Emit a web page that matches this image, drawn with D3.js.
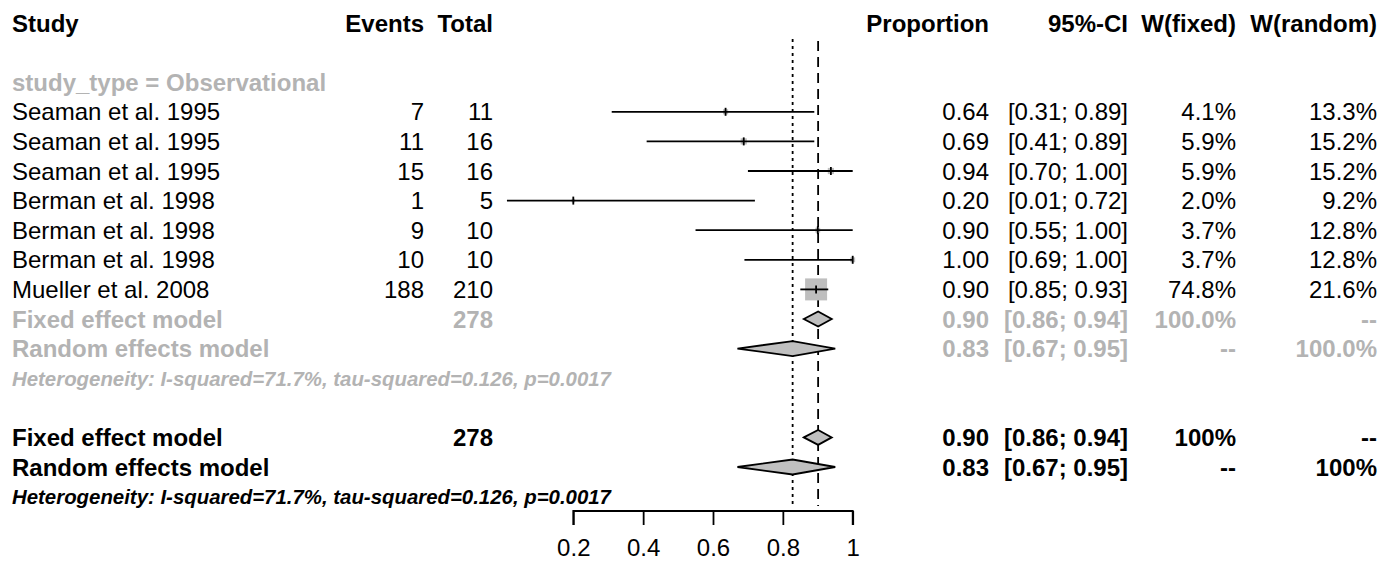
<!DOCTYPE html>
<html>
<head>
<meta charset="utf-8">
<script src="https://cdn.jsdelivr.net/npm/d3@7"></script>
<style>
  body { margin: 0; background: #fff; }
  text { font-family: "Liberation Sans", Arial, sans-serif; }
</style>
</head>
<body>
<div id="chart"></div>
<script>
// study level data
var studies = ["Seaman et al. 1995", "Seaman et al. 1995", "Seaman et al. 1995", "Berman et al. 1998", "Berman et al. 1998", "Berman et al. 1998", "Mueller et al. 2008"];
var events = [7, 11, 15, 1, 9, 10, 188];
var totals = [11, 16, 16, 5, 10, 10, 210];
var props = [0.636, 0.688, 0.9375, 0.2, 0.9, 1.0, 0.8952];
var lower = [0.31, 0.41, 0.70, 0.01, 0.55, 0.69, 0.85];
var upper = [0.89, 0.89, 1.00, 0.72, 1.00, 1.00, 0.93];
var wFixed = [4.1, 5.9, 5.9, 2.0, 3.7, 3.7, 74.8];
var wRandom = [13.3, 15.2, 15.2, 9.2, 12.8, 12.8, 21.6];

// pooled estimates
var pooledNames = ["Fixed effect model", "Random effects model"];
var pooledEst = [0.901, 0.828];
var pooledLower = [0.86, 0.67];
var pooledUpper = [0.94, 0.95];
var pooledTotal = 278;
var hetText = "Heterogeneity: I-squared=71.7%, tau-squared=0.126, p=0.0017";
var groupLabel = "study_type = Observational";
var axisTicks = [0.2, 0.4, 0.6, 0.8, 1];

var width = 1383, height = 565;
var grey = "#b3b3b3";
var fs = 24;
var lw = 1.8;

var svg = d3.select("#chart").append("svg")
  .attr("width", width)
  .attr("height", height);

// scales
var x = d3.scaleLinear().domain([0.2, 1]).range([573.3, 852.7]);
var row = d3.scaleLinear().domain([0, 1]).range([23, 52.6]);

// column right edges
var col = {study: 12, events: 424, total: 493, prop: 989, ci: 1128, wf: 1236, wr: 1377};

function txt(xp, r, s, opts) {
  opts = opts || {};
  return svg.append("text")
    .attr("x", xp)
    .attr("y", row(r))
    .attr("dy", "0.36em")
    .attr("text-anchor", opts.anchor || "end")
    .style("font-size", (opts.size || fs) + "px")
    .style("font-weight", opts.bold ? "bold" : "normal")
    .style("font-style", opts.italic ? "italic" : "normal")
    .style("fill", opts.color || "#000")
    .text(s);
}

// header
txt(col.study, 0, "Study", {anchor: "start", bold: true});
txt(col.events, 0, "Events", {bold: true});
txt(col.total, 0, "Total", {bold: true});
txt(col.prop, 0, "Proportion", {bold: true});
txt(col.ci, 0, "95%-CI", {bold: true});
txt(col.wf, 0, "W(fixed)", {bold: true});
txt(col.wr, 0, "W(random)", {bold: true});

txt(col.study, 2, groupLabel, {anchor: "start", bold: true, color: grey});

function ciStr(lo, hi) { return "[" + lo.toFixed(2) + "; " + hi.toFixed(2) + "]"; }

// reference lines (drawn first so marks sit on top)
svg.append("line")
  .attr("x1", x(pooledEst[1])).attr("x2", x(pooledEst[1]))
  .attr("y1", 39).attr("y2", 506)
  .attr("stroke", "#000").attr("stroke-width", lw)
  .attr("stroke-dasharray", "3,4");
svg.append("line")
  .attr("x1", x(pooledEst[0])).attr("x2", x(pooledEst[0]))
  .attr("y1", 41).attr("y2", 506)
  .attr("stroke", "#000").attr("stroke-width", lw)
  .attr("stroke-dasharray", "10,6");

var maxSide = 22;
studies.forEach(function (s, i) {
  var r = i + 3;
  txt(col.study, r, s, {anchor: "start"});
  txt(col.events, r, events[i]);
  txt(col.total, r, totals[i]);
  txt(col.prop, r, props[i].toFixed(2));
  txt(col.ci, r, ciStr(lower[i], upper[i]));
  txt(col.wf, r, wFixed[i].toFixed(1) + "%");
  txt(col.wr, r, wRandom[i].toFixed(1) + "%");

  var side = maxSide * Math.sqrt(wFixed[i] / d3.max(wFixed));
  var cy = row(r);
  svg.append("rect")
    .attr("x", x(props[i]) - side / 2)
    .attr("y", cy - side / 2)
    .attr("width", side).attr("height", side)
    .attr("fill", "#bebebe");
  svg.append("line")
    .attr("x1", x(lower[i])).attr("x2", x(upper[i]))
    .attr("y1", cy).attr("y2", cy)
    .attr("stroke", "#000").attr("stroke-width", lw);
  svg.append("line")
    .attr("x1", x(props[i])).attr("x2", x(props[i]))
    .attr("y1", cy - 4).attr("y2", cy + 4)
    .attr("stroke", "#000").attr("stroke-width", lw);
});

function diamond(i, r) {
  var cy = row(r), h = 7.5;
  var pts = [[x(pooledLower[i]), cy], [x(pooledEst[i]), cy - h], [x(pooledUpper[i]), cy], [x(pooledEst[i]), cy + h]];
  svg.append("polygon")
    .attr("points", pts.map(function (p) { return p.join(","); }).join(" "))
    .attr("fill", "#c0c0c0")
    .attr("stroke", "#000")
    .attr("stroke-width", lw);
}

// subgroup pooled (grey) and overall pooled (black)
[[10, grey, ["100.0%", "--"]], [14, "#000", ["100%", "--"]]].forEach(function (g) {
  var r0 = g[0], c = g[1];
  pooledNames.forEach(function (n, i) {
    var r = r0 + i;
    txt(col.study, r, n, {anchor: "start", bold: true, color: c});
    if (i === 0) txt(col.total, r, pooledTotal, {bold: true, color: c});
    txt(col.prop, r, pooledEst[i].toFixed(2), {bold: true, color: c});
    txt(col.ci, r, ciStr(pooledLower[i], pooledUpper[i]), {bold: true, color: c});
    var wf = i === 0 ? g[2][0] : g[2][1];
    var wr = i === 0 ? g[2][1] : g[2][0];
    txt(col.wf, r, wf, {bold: true, color: c});
    txt(col.wr, r, wr, {bold: true, color: c});
    diamond(i, r);
  });
  txt(col.study, r0 + 2, hetText, {anchor: "start", bold: true, italic: true, size: 20.4, color: c});
});

// x axis
var axis = svg.append("g")
  .attr("transform", "translate(0,511)")
  .call(d3.axisBottom(x).tickValues(axisTicks).tickSize(14).tickPadding(14)
    .tickFormat(function (d) { return d === 1 ? "1" : d3.format(".1f")(d); }));
axis.select(".domain").attr("d", "M" + x(0.2) + ",14V0H" + x(1) + "V14").attr("stroke-width", lw);
axis.selectAll(".tick line").attr("stroke-width", lw);
axis.selectAll(".tick text").style("font-size", "24px").style("font-family", "Liberation Sans, Arial, sans-serif");
</script>
</body>
</html>
